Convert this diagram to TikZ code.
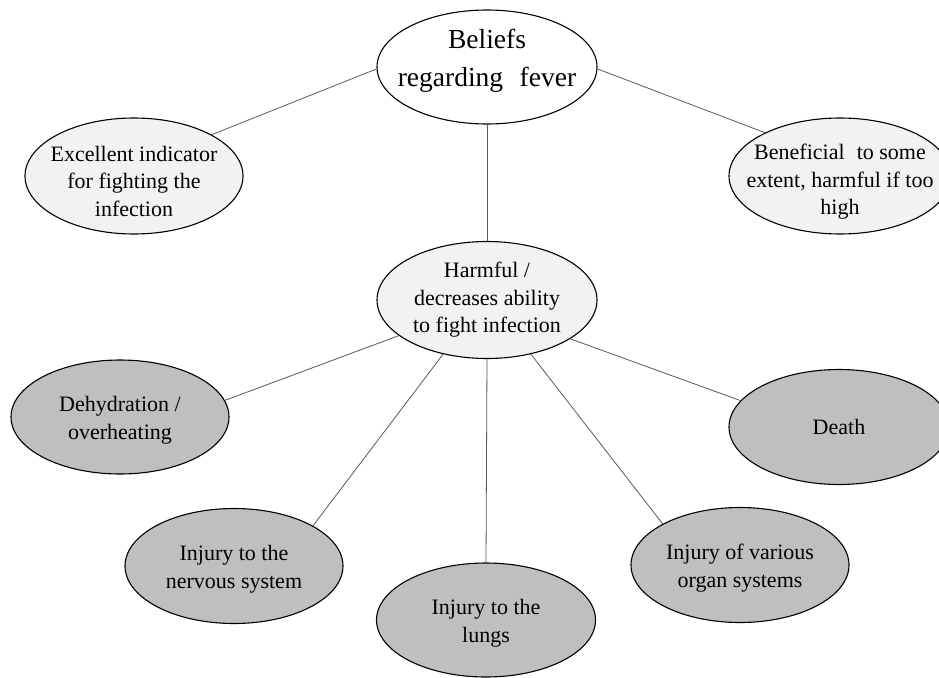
\documentclass[tikz,border=0pt]{standalone}
\usepackage{fontspec}
\setmainfont{Liberation Serif}
\usetikzlibrary{shapes.geometric}
\definecolor{lightfill}{HTML}{F2F2F2}
\definecolor{darkfill}{HTML}{BFBFBF}
\definecolor{linkgrey}{HTML}{595959}
\begin{document}
\begin{tikzpicture}[x=1pt,y=-1pt,
  bubble/.style={ellipse, draw=black, line width=1.1pt, inner sep=0pt},
  bubbletext/.style={align=center, inner sep=0pt, font=\fontsize{22}{27.5}\selectfont},
  roottext/.style={bubbletext, font=\fontsize{27.5}{38}\selectfont},
  rootbubble/.style={bubble, fill=white},
  viewbubble/.style={bubble, fill=lightfill},
  effectbubble/.style={bubble, fill=darkfill},
  link/.style={draw=linkgrey, line width=0.8pt}]
\useasboundingbox (0,0) rectangle (939,677);

% root and the three beliefs
\node[rootbubble, minimum width=220pt, minimum height=114pt,
  label={[roottext, yshift=6pt]center:{Beliefs\\regarding\hspace{0.35em} fever}}] (root) at (487,67) {};
\node[viewbubble, minimum width=218pt, minimum height=116pt,
  label={[bubbletext, yshift=-5pt]center:{Excellent indicator\\for fighting the\\infection}}] (indicator) at (134,176) {};
\node[viewbubble, minimum width=222pt, minimum height=116pt,
  label={[bubbletext, yshift=-6pt]center:{Beneficial\hspace{0.3em} to some\\extent, harmful if too\\high}}] (beneficial) at (840,176) {};
\node[viewbubble, minimum width=220pt, minimum height=117pt,
  label={[bubbletext]center:{Harmful /\\decreases ability\\to fight infection}}] (harmful) at (487,300) {};

% consequences of the harmful view
\node[effectbubble, minimum width=218pt, minimum height=114pt,
  label={[bubbletext, yshift=-3pt]center:{Dehydration /\\overheating}}] (dehyd) at (120,417) {};
\node[effectbubble, minimum width=220pt, minimum height=115pt,
  label={[bubbletext]center:{Death}}] (death) at (839,427) {};
\node[effectbubble, minimum width=218pt, minimum height=115pt,
  label={[bubbletext, yshift=-3pt]center:{Injury to the\\nervous system}}] (nervous) at (234,566) {};
\node[effectbubble, minimum width=219pt, minimum height=114pt,
  label={[bubbletext, yshift=-3pt]center:{Injury to the\\lungs}}] (lungs) at (486,620) {};
\node[effectbubble, minimum width=218pt, minimum height=115pt,
  label={[bubbletext, yshift=-3pt]center:{Injury of various\\organ systems}}] (organs) at (740,565) {};

% connectors
\draw[link] (root.181) -- (indicator.28);
\draw[link] (root.359) -- (beneficial.150);
\draw[link] (root.270) -- (harmful.90);
\draw[link] (harmful.202) -- (dehyd.9);
\draw[link] (harmful.231) -- (nervous.27);
\draw[link] (harmful.270) -- (lungs.90);
\draw[link] (harmful.309) -- (organs.152);
\draw[link] (harmful.335) -- (death.165);
\end{tikzpicture}
\end{document}
